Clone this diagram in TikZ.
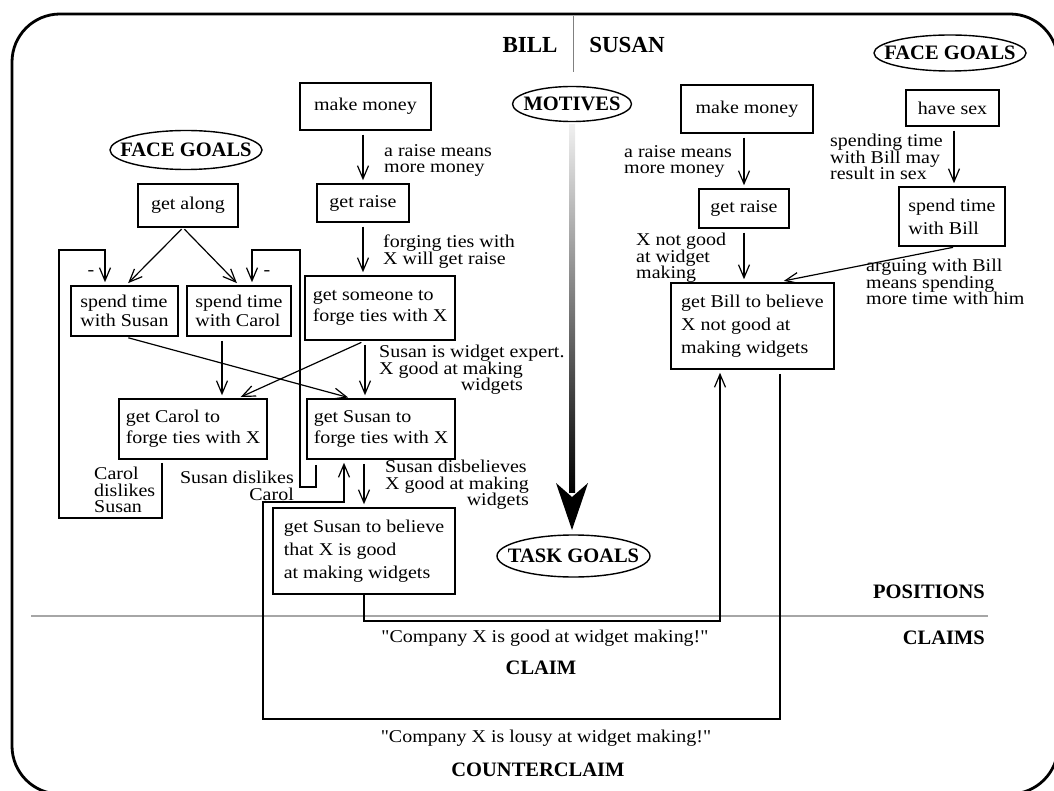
\documentclass[tikz,border=0pt]{standalone}
\usepackage{fontspec}
\usepackage{calc}
\setmainfont{Liberation Serif}
\newfontfamily\bodyfont{Liberation Serif}[FakeStretch=1.11]
\newfontfamily\hdrfont{Liberation Serif}
\usetikzlibrary{arrows.meta,calc}
\begin{document}
\begin{tikzpicture}[x=1pt,y=-1pt,
  box/.style={draw,line width=1.5pt,inner sep=0pt,align=left,font=\bodyfont\fontsize{18}{21}\selectfont},
  lbl/.style={inner sep=0pt,align=left,anchor=north west,font=\bodyfont\fontsize{18}{16.5}\selectfont},
  hdr/.style={inner sep=0pt,font=\hdrfont\bfseries\fontsize{20.5}{22}\selectfont},
  big/.style={inner sep=0pt,font=\hdrfont\bfseries\fontsize{23}{24}\selectfont},
  txt/.style={inner sep=0pt,font=\bodyfont\fontsize{18}{20}\selectfont},
  ovl/.style={line width=1.4pt},
  arr/.style={-{Straight Barb[length=13pt,width=11pt]},line width=1.2pt,shorten >=3pt,shorten <=4pt}
]
\useasboundingbox (0,0) rectangle (1054,791);
\clip (0,0) rectangle (1054,791);
% frame
\draw[line width=2.8pt,rounded corners=48pt] (12,14) rectangle (1058,794);
\draw[gray,line width=1pt] (573,16) -- (573,72);
\draw[gray!70,line width=1.8pt] (31,616) -- (988,616);

% headers
\node[big] (bill) at (530,45) {BILL};
\node[big] (susan) at (627,45) {SUSAN};
\node[hdr] (fg1) at (186,150) {FACE GOALS};
\draw[ovl] (fg1.center) ellipse [x radius=76pt, y radius=19.5pt];
\node[hdr] (fg2) at (950,53) {FACE GOALS};
\draw[ovl] (fg2.center) ellipse [x radius=76pt, y radius=18pt];
\node[hdr] (mot) at (572,104) {MOTIVES};
\draw[ovl] (mot.center) ellipse [x radius=59.5pt, y radius=17.5pt];
\node[hdr] (tg) at (573.5,556) {TASK GOALS};
\draw[ovl] (tg.center) ellipse [x radius=76.5pt, y radius=21pt];
\node[hdr,anchor=east] (pos) at (985,592) {POSITIONS};
\node[hdr,anchor=east] (clms) at (985,638) {CLAIMS};
\node[txt] (q1) at (545,638) {"Company X is good at widget making!"};
\node[hdr] (claim) at (541,668) {CLAIM};
\node[txt] (q2) at (546,738) {"Company X is lousy at widget making!"};
\node[hdr] (cclaim) at (538,770) {COUNTERCLAIM};

% Bill boxes
\node[box,minimum width=131pt,minimum height=47pt] (mm1) at (365.5,106.5) {make money};
\node[box,minimum width=92pt,minimum height=38pt] (gr1) at (363,203) {get raise};
\node[box,minimum width=150pt,minimum height=64pt] (gs) at (380,308) {get someone to\\forge ties with X};
\node[box,minimum width=100pt,minimum height=43pt] (ga) at (188,205.5) {get along};
\node[box,minimum width=107pt,minimum height=50pt,font=\bodyfont\fontsize{18}{19}\selectfont] (sts) at (124.5,311) {spend time\\with Susan};
\node[box,minimum width=104pt,minimum height=50pt,font=\bodyfont\fontsize{18}{19}\selectfont] (stc) at (239,311) {spend time\\with Carol};
\node[box,minimum width=148pt,minimum height=60pt] (gc) at (193,429) {get Carol to\\forge ties with X};
\node[box,minimum width=148pt,minimum height=60pt] (gsf) at (381,429) {get Susan to\\forge ties with X};
\node[box,minimum width=182pt,minimum height=86pt,font=\bodyfont\fontsize{18}{23}\selectfont] (gsb) at (364,551) {get Susan to believe\\that X is good\\at making widgets};
% Susan boxes
\node[box,minimum width=132pt,minimum height=48pt] (mm2) at (747,109) {make money};
\node[box,minimum width=90pt,minimum height=39pt] (gr2) at (744,208.5) {get raise};
\node[box,minimum width=93pt,minimum height=36pt] (hs) at (952.5,108) {have sex};
\node[box,minimum width=106pt,minimum height=59pt,font=\bodyfont\fontsize{18}{23}\selectfont] (stb) at (952,216.5) {spend time\\with Bill};
\node[box,minimum width=163pt,minimum height=86pt,font=\bodyfont\fontsize{18}{23}\selectfont] (gb) at (752.5,326) {get Bill to believe\\X not good at\\making widgets};

% labels
\node[lbl] (l1) at (384,144) {a raise means\\more money};
\node[lbl] (l2) at (383,235) {forging ties with\\X will get raise};
\node[lbl] (l3) at (379,345) {Susan is widget expert.\\X good at making\\\makebox[\widthof{X good at making}][r]{widgets}};
\node[lbl] (l4) at (385,460) {Susan disbelieves\\X good at making\\\makebox[\widthof{X good at making}][r]{widgets}};
\node[lbl] (l5) at (94,467) {Carol\\dislikes\\Susan};
\node[lbl,anchor=north east,align=right] (l6) at (294,471) {Susan dislikes\\Carol};
\node[lbl] (r1) at (624,145) {a raise means\\more money};
\node[lbl] (r2) at (830,134) {spending time\\with Bill may\\result in sex};
\node[lbl] (r3) at (636,233) {X not good\\at widget\\making};
\node[lbl] (r4) at (866,259) {arguing with Bill\\means spending\\more time with him};
\node[txt] (m1) at (91,273) {-};
\node[txt] (m2) at (267,273) {-};

% Bill connectors
\draw[arr] (mm1.south -| gr1.north) -- (gr1.north);
\draw[arr] (gr1.south) -- (gr1.south |- gs.north);
\draw[arr,shorten <=2pt] ([xshift=-5pt]ga.south) -- ([xshift=1.5pt]sts.north);
\draw[arr,shorten <=2pt] ([xshift=-5pt]ga.south) -- (stc.north);
\coordinate (cl1) at (59,518);
\coordinate (cl2) at (105,250);
\draw[arr,shorten <=3pt] ([xshift=-31pt]gc.south) |- (cl1) |- (cl2) -- (cl2 |- sts.north);
\coordinate (cr1) at (300,487);
\coordinate (cr2) at (252,250);
\draw[arr,shorten <=5pt] ([xshift=-65pt]gsf.south) |- (cr1) |- (cr2) -- (cr2 |- stc.north);
\draw[arr] ([xshift=-17pt]stc.south) -- ([xshift=-17pt]stc.south |- gc.north);
\draw[arr] (sts.south) -- ([xshift=-30pt]gsf.north);
\draw[arr] ([xshift=-15pt]gs.south) -- ([xshift=45pt]gc.north);
\draw[arr] ([xshift=-15pt]gs.south) -- ([xshift=-16pt]gsf.north);
\draw[arr] (gsb.north |- gsf.south) -- (gsb.north);
% counterclaim
\coordinate (cc1) at (263,719);
\coordinate (cc2) at (344,502);
\draw[arr] ([xshift=27.5pt]gb.south) |- (cc1) |- (cc2) -- (cc2 |- gsf.south);
% claim
\coordinate (cm1) at (720,621);
\draw[arr,shorten <=0pt] (gsb.south) |- (cm1) -- (cm1 |- gb.south);
% Susan connectors
\draw[arr] (mm2.south -| gr2.north) -- (gr2.north);
\draw[arr] (gr2.south) -- (gr2.south |- gb.north);
\draw[arr] ([xshift=1.5pt]hs.south) -- ([xshift=1.5pt]hs.south |- stb.north);
\draw[arr,shorten >=7pt,shorten <=3pt] ([xshift=4pt]stb.south) -- ([xshift=24.5pt]gb.north);

% motives -> task goals
\coordinate (tgc) at (mot.center |- tg.center);
\shade[top color=black!6,bottom color=black] ([xshift=-3pt,yshift=-21pt]mot.center) rectangle ([xshift=3pt,yshift=64pt]tgc);
\fill ([yshift=26pt]tgc) -- ([xshift=-16pt,yshift=73pt]tgc) -- ([yshift=59pt]tgc) -- ([xshift=16pt,yshift=73pt]tgc) -- cycle;
\end{tikzpicture}
\end{document}
